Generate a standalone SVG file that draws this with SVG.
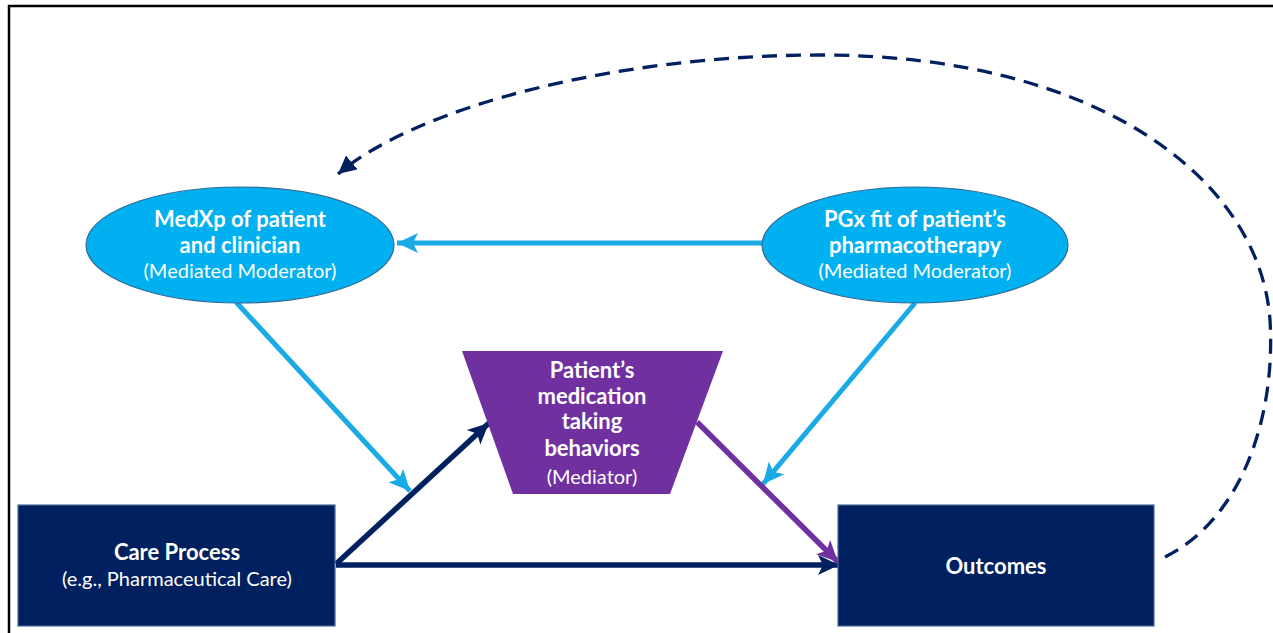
<svg xmlns="http://www.w3.org/2000/svg" width="1273" height="633" viewBox="0 0 1273 633">
<style>
  text { font-family: Lato, "Open Sans", "Liberation Sans", sans-serif; fill: #ffffff; text-anchor: middle; font-size: 20px; }
  .b { font-weight: bold; font-size: 22px; }
  .ell { fill: #00B0F0; stroke: #2E6A99; stroke-width: 1.2; }
  .box { fill: #002060; stroke: #4A6A95; stroke-width: 1.2; }
  .trap { fill: #7030A0; }
  .lb { stroke: #1AAAE6; stroke-width: 5; fill: none; }
  .nv { stroke: #002060; stroke-width: 5.5; fill: none; }
  .pu { stroke: #7030A0; stroke-width: 5.5; fill: none; }
  .dash { stroke: #002060; stroke-width: 3.3; fill: none; stroke-dasharray: 15 9; }
</style>
<defs>
  <marker id="ahLB" markerUnits="userSpaceOnUse" markerWidth="24" markerHeight="22" refX="21" refY="11" orient="auto">
    <path d="M0,1 L21,11 L0,21 L5,11 Z" fill="#1AAAE6"/>
  </marker>
  <marker id="ahNV" markerUnits="userSpaceOnUse" markerWidth="24" markerHeight="22" refX="21" refY="11" orient="auto">
    <path d="M0,1 L21,11 L0,21 L5,11 Z" fill="#002060"/>
  </marker>
  <marker id="ahPU" markerUnits="userSpaceOnUse" markerWidth="24" markerHeight="22" refX="21" refY="11" orient="auto">
    <path d="M0,1 L21,11 L0,21 L5,11 Z" fill="#7030A0"/>
  </marker>
  <marker id="ahDash" markerUnits="userSpaceOnUse" markerWidth="20" markerHeight="18" refX="18" refY="9" orient="auto">
    <path d="M0,0 L18,9 L0,18 Z" fill="#002060"/>
  </marker>
</defs>
<rect width="1273" height="633" fill="#ffffff"/>
<path d="M9,640 L9,6 L1280,6" fill="none" stroke="#000000" stroke-width="2.5"/>

<g id="connectors">
  <line class="lb" x1="762" y1="243" x2="397" y2="243" marker-end="url(#ahLB)"/>
  <line class="lb" x1="236" y1="302" x2="410" y2="491" marker-end="url(#ahLB)"/>
  <line class="lb" x1="915" y1="303" x2="763" y2="484" marker-end="url(#ahLB)"/>
  <line class="nv" x1="336" y1="564" x2="489" y2="423" marker-end="url(#ahNV)"/>
  <line class="nv" x1="336" y1="565" x2="839" y2="565" marker-end="url(#ahNV)"/>
  <line class="pu" x1="697" y1="422" x2="838" y2="562" marker-end="url(#ahPU)"/>
  <path class="dash" d="M1165,557 C1240,520 1276,420 1270,320 C1260,180 1100,55 820,55 C620,55 420,105 338,174" marker-end="url(#ahDash)"/>
</g>

<g id="medxp">
  <ellipse class="ell" cx="240" cy="245" rx="154" ry="58"/>
  <text class="b" x="240" y="227">MedXp of patient</text>
  <text class="b" x="240" y="253">and clinician</text>
  <text x="240" y="278">(Mediated Moderator)</text>
</g>

<g id="pgx">
  <ellipse class="ell" cx="915" cy="245" rx="153" ry="58"/>
  <text class="b" x="915" y="227">PGx fit of patient’s</text>
  <text class="b" x="915" y="253">pharmacotherapy</text>
  <text x="915" y="278">(Mediated Moderator)</text>
</g>

<g id="mediator">
  <polygon class="trap" points="462,351 723,351 670,494 513,494"/>
  <text class="b" x="592" y="378">Patient’s</text>
  <text class="b" x="592" y="404">medication</text>
  <text class="b" x="592" y="429">taking</text>
  <text class="b" x="592" y="456">behaviors</text>
  <text x="592" y="484">(Mediator)</text>
</g>

<g id="care">
  <rect class="box" x="18" y="505" width="317" height="121"/>
  <text class="b" x="177" y="560">Care Process</text>
  <text x="177" y="586">(e.g., Pharmaceutical Care)</text>
</g>

<g id="outcomes">
  <rect class="box" x="838" y="505" width="316" height="121"/>
  <text class="b" x="996" y="574">Outcomes</text>
</g>
</svg>
